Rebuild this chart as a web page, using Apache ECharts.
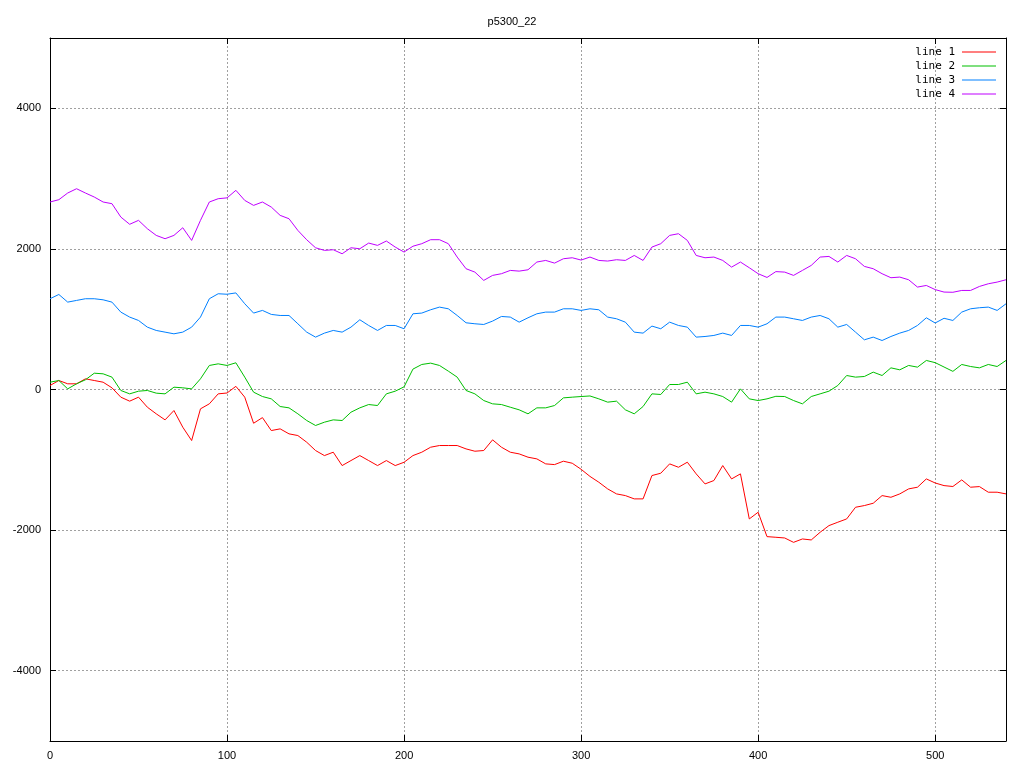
<!DOCTYPE html>
<html>
<head>
<meta charset="utf-8">
<script src="https://cdn.jsdelivr.net/npm/echarts@6/dist/echarts.min.js"></script>
<style>
html,body{margin:0;padding:0;background:#fff;}
#chart{width:1024px;height:768px;}
</style>
</head>
<body>
<div id="chart"></div>
<script>
// ---- data ----
const titleText = 'p5300_22';
const seriesNames = ['line 1', 'line 2', 'line 3', 'line 4'];
const xStart = 0, xStep = 5; // x positions: 0,5,10,...,540
const line1 = [57,128,81,81,152,128,104,24,-109,-166,-109,-252,-346,-432,-299,-536,-726,-275,-204,-62,
  -50,45,-109,-480,-400,-584,-560,-631,-655,-750,-868,-940,-892,-1082,-1011,-940,-1011,-1082,-1011,-1082,
  -1035,-940,-892,-821,-797,-797,-797,-845,-878,-868,-716,-821,-892,-916,-963,-987,-1058,-1068,-1020,-1049,
  -1135,-1236,-1319,-1414,-1485,-1509,-1556,-1556,-1224,-1191,-1058,-1106,-1034,-1200,-1343,-1295,-1082,-1272,-1200,-1841,
  -1746,-2093,-2102,-2112,-2174,-2126,-2140,-2031,-1936,-1888,-1841,-1675,-1651,-1618,-1509,-1533,-1485,-1414,-1390,-1272,
  -1330,-1367,-1380,-1286,-1390,-1381,-1461,-1461,-1485];
const line2 = [104,128,9,81,138,232,223,176,-14,-62,-24,-14,-52,-62,33,24,9,152,342,365,
  342,380,176,-38,-100,-133,-242,-261,-346,-441,-512,-465,-432,-441,-323,-261,-214,-228,-62,-24,
  38,290,356,375,342,261,176,-14,-62,-157,-204,-214,-252,-289,-346,-261,-261,-228,-119,-109,
  -100,-92,-133,-180,-166,-289,-346,-242,-62,-71,71,71,104,-62,-38,-62,-100,-180,9,-133,
  -157,-133,-97,-100,-157,-204,-100,-62,-24,57,199,176,185,247,199,308,280,342,318,413,
  382,320,258,356,327,308,356,327,413];
const line3 = [1291,1352,1243,1267,1291,1291,1276,1243,1101,1030,982,887,840,816,792,816,887,1030,1291,1362,
  1355,1374,1220,1087,1125,1068,1053,1053,935,816,745,802,840,816,887,992,911,840,911,911,
  864,1077,1087,1134,1172,1148,1053,949,935,925,973,1039,1030,958,1020,1077,1101,1101,1148,1148,
  1125,1148,1134,1030,1006,958,816,802,902,864,958,911,887,745,754,769,802,769,911,911,
  887,935,1030,1030,1006,982,1030,1053,1006,887,925,816,707,745,697,754,802,840,911,1020,
  946,1013,982,1101,1148,1163,1172,1125,1219];
const line4 = [2667,2700,2795,2856,2795,2738,2667,2643,2453,2350,2406,2287,2192,2145,2192,2301,2121,2406,2667,2714,
  2726,2833,2690,2619,2667,2595,2477,2429,2263,2130,2016,1979,1988,1931,2016,2002,2083,2050,2112,2026,
  1955,2038,2074,2131,2131,2074,1884,1718,1670,1552,1623,1647,1694,1684,1703,1813,1836,1798,1860,1874,
  1841,1884,1836,1827,1846,1836,1907,1836,2026,2074,2192,2216,2121,1907,1874,1884,1836,1741,1813,1732,
  1647,1594,1677,1670,1623,1694,1765,1884,1893,1813,1907,1860,1751,1718,1647,1590,1599,1561,1457,1480,
  1421,1386,1383,1409,1409,1466,1504,1528,1561];
const seriesColors = ['#ff0000', '#00c000', '#0080ff', '#c000ff'];
const xMin = 0, xMax = 540, xInterval = 100;
const yMin = -5000, yMax = 5000;
const yTicks = [-4000, -2000, 0, 2000, 4000];

// ---- chart ----
const allLines = [line1, line2, line3, line4];
const toPairs = arr => arr.map((v, i) => [xStart + i * xStep, v]);
const font = 'Liberation Sans, Arial, sans-serif';
const chart = echarts.init(document.getElementById('chart'), null, {renderer: 'canvas'});
const gridLine = {show: true, lineStyle: {color: '#a0a0a0', width: 1, type: [2, 2]}};
const option = {
  animation: false,
  backgroundColor: '#ffffff',
  title: {
    text: titleText, left: 'center', top: 11,
    textStyle: {fontFamily: font, fontSize: 11, fontWeight: 'normal', color: '#000'}
  },
  legend: {
    data: seriesNames.map((n, k) => ({name: n, icon: 'rect',
      itemStyle: {color: seriesColors[k], borderWidth: 0, opacity: 1}})),
    orient: 'vertical',
    right: 23, top: 40,
    align: 'right',
    itemWidth: 34, itemHeight: 1,
    itemGap: 0,
    textStyle: {fontFamily: 'DejaVu Sans Mono, monospace', fontSize: 11, lineHeight: 14, height: 14,
      color: '#000', padding: [0, 2, 0, 0]}
  },
  grid: {left: 50, right: 18, top: 38, bottom: 27, containLabel: false},
  xAxis: [{
    type: 'value', min: xMin, max: xMax, interval: xInterval, position: 'bottom',
    axisLine: {show: true, onZero: false, lineStyle: {color: '#000', width: 1}},
    axisTick: {show: true, inside: true, length: 6, lineStyle: {color: '#000'}},
    axisLabel: {show: true, margin: 9, fontFamily: font, fontSize: 11, color: '#000',
      formatter: v => (v >= xMax ? '' : String(v))},
    splitLine: gridLine
  }, {
    type: 'value', min: xMin, max: xMax, interval: xInterval, position: 'top',
    axisLine: {show: true, onZero: false, lineStyle: {color: '#000', width: 1}},
    axisTick: {show: true, inside: true, length: 6, lineStyle: {color: '#000'}},
    axisLabel: {show: false}, splitLine: {show: false}
  }],
  yAxis: [{
    type: 'value', min: yMin, max: yMax, position: 'left',
    axisLine: {show: true, onZero: false, lineStyle: {color: '#000', width: 1}},
    axisTick: {show: true, inside: true, length: 6, customValues: yTicks, lineStyle: {color: '#000'}},
    axisLabel: {show: true, margin: 9, fontFamily: font, fontSize: 11, color: '#000', customValues: yTicks,
      formatter: v => String(v)},
    splitLine: gridLine
  }, {
    type: 'value', min: yMin, max: yMax, position: 'right',
    axisLine: {show: true, onZero: false, lineStyle: {color: '#000', width: 1}},
    axisTick: {show: true, inside: true, length: 6, customValues: yTicks, lineStyle: {color: '#000'}},
    axisLabel: {show: false}, splitLine: {show: false}
  }],
  series: allLines.map((arr, k) => ({
    name: seriesNames[k],
    type: 'line',
    data: toPairs(arr),
    xAxisIndex: 0, yAxisIndex: 0,
    showSymbol: false, symbol: 'none',
    color: seriesColors[k],
    lineStyle: {color: seriesColors[k], width: 1},
    itemStyle: {color: seriesColors[k]},
    emphasis: {disabled: true},
    z: 2 + k
  }))
};
chart.setOption(option);
</script>
</body>
</html>
